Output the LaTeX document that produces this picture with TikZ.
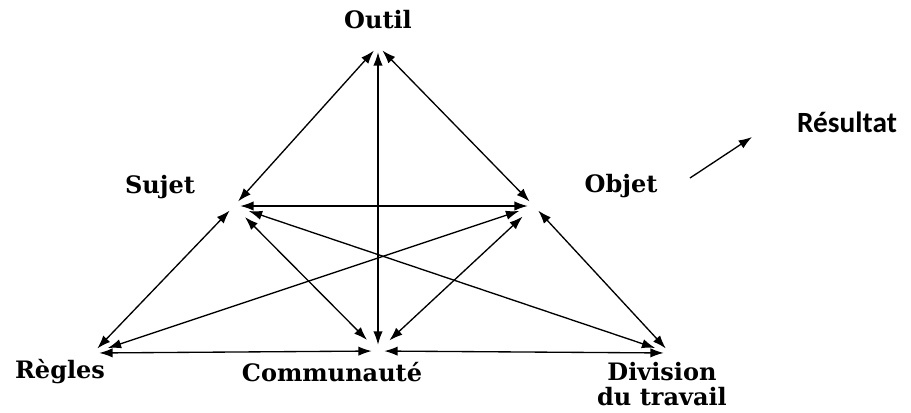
\documentclass[tikz,border=0pt]{standalone}
\usepackage{fontspec}
\setmainfont{DejaVu Serif}
\newfontfamily\resfont{Carlito}
\usetikzlibrary{arrows.meta}

\begin{document}
\begin{tikzpicture}[x=0.75pt,y=-0.75pt,>={Latex[length=10pt,width=7pt]},
  vtx/.style={circle,inner sep=0pt,minimum size=9pt},
  lab/.style={font=\bfseries\fontsize{18}{19}\selectfont,inner sep=0pt,align=center},
  arr/.style={<->,line width=1pt},
  cross/.style={arr,shorten <=7pt,shorten >=7pt}]
\useasboundingbox (0,0) rectangle (911,412);
% sommets
\node[vtx] (outil) at (378,46) {};
\node[vtx] (sujet) at (234,206) {};
\node[vtx] (objet) at (534,206) {};
\node[vtx] (regles) at (93,353) {};
\node[vtx] (commu) at (378,351) {};
\node[vtx] (divis) at (670,353) {};
% etiquettes
\node[lab] (outiltxt) at (378,20) {Outil};
\node[lab] (sujettxt) at (160,187) {Sujet};
\node[lab] (objettxt) at (621,186) {Objet};
\node[lab] (reglestxt) at (60,372) {Règles};
\node[lab] (commutxt) at (332,372) {Communauté};
\node[lab] (divistxt) at (662,384) {Division\\du travail};
\node[font=\resfont\bfseries\fontsize{22}{24}\selectfont,inner sep=0pt] (restxt) at (847,122) {Résultat};
% aretes
\draw[arr] (outil)--(sujet);\draw[arr] (outil)--(objet);\draw[arr] (outil)--(commu);
\draw[arr] (sujet)--(objet);\draw[arr] (sujet)--(regles);\draw[arr] (objet)--(divis);
\draw[arr] (regles)--(commu);\draw[arr] (commu)--(divis);
\draw[cross] (sujet)--(commu);\draw[cross] (objet)--(commu);
\draw[cross] (sujet)--(divis);\draw[cross] (objet)--(regles);
% resultat
\coordinate (restail) at (690,178);
\coordinate (reshead) at (752,137);
\draw[->,line width=1pt] (restail)--(reshead);
\end{tikzpicture}
\end{document}
